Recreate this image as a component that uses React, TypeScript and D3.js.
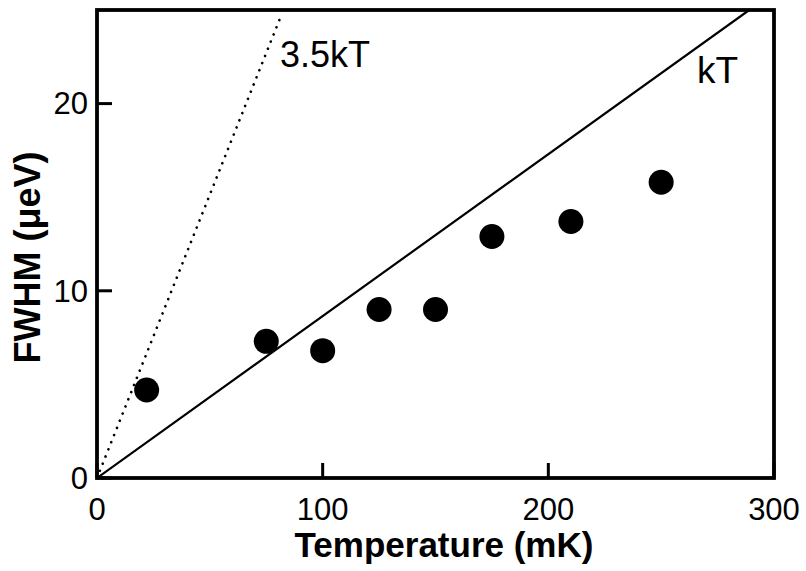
import React, { useEffect, useRef } from "react";
import * as d3 from "d3";

const temperatures = [22, 75, 100, 125, 150, 175, 210, 250];
const fwhm = [4.7, 7.3, 6.8, 9.0, 9.0, 12.9, 13.7, 15.8];
const xTicks = [0, 100, 200, 300];
const yTicks = [0, 10, 20];
const kB = 0.0865; // µeV per mK (slope)
const factors = [1, 3.5];
const lineLabels = ["kT", "3.5kT"];

const W = 806;
const H = 571;
const FONT = "'Liberation Sans', Arial, Helvetica, sans-serif";

export default function App() {
  const ref = useRef<SVGSVGElement>(null);

  useEffect(() => {
    const svg = d3.select(ref.current);
    svg.selectAll("*").remove();

    const x = d3.scaleLinear().domain([0, 300]).range([97, 774]);
    const y = d3.scaleLinear().domain([0, 25]).range([478, 10]);

    const g = svg.append("g");

    svg.append("defs").append("clipPath").attr("id", "plotclip")
      .append("rect").attr("x", x(0)).attr("y", y(25)).attr("width", x(300) - x(0)).attr("height", y(0) - y(25));

    const line = d3.line<[number, number]>().x(d => x(d[0])).y(d => y(d[1]));
    factors.forEach((f, i) => {
      const tMax = Math.min(300, (i === 1 ? 24.7 : 25) / (f * kB));
      const pts: [number, number][] = [[0, 0], [tMax, f * kB * tMax]];
      g.append("path")
        .attr("d", line(pts))
        .attr("clip-path", "url(#plotclip)")
        .attr("fill", "none")
        .attr("stroke", "#000")
        .attr("stroke-width", i === 0 ? 2.2 : 2.6)
        .attr("stroke-linecap", i === 0 ? "butt" : "round")
        .attr("stroke-dasharray", i === 0 ? null : "0.1,7.6");
    });

    g.selectAll("circle.pt")
      .data(temperatures.map((t, i) => [t, fwhm[i]]))
      .enter().append("circle")
      .attr("cx", d => x(d[0]))
      .attr("cy", d => y(d[1]))
      .attr("r", 12.5)
      .attr("fill", "#000");

    g.append("rect")
      .attr("x", x(0)).attr("y", y(25))
      .attr("width", x(300) - x(0)).attr("height", y(0) - y(25))
      .attr("fill", "none").attr("stroke", "#000").attr("stroke-width", 3.8);

    xTicks.forEach(t => {
      g.append("line").attr("x1", x(t)).attr("x2", x(t)).attr("y1", y(0)).attr("y2", y(0) - 15)
        .attr("stroke", "#000").attr("stroke-width", 3);
      g.append("text").attr("x", x(t)).attr("y", 520).attr("text-anchor", "middle")
        .attr("font-family", FONT).attr("font-size", 31).text(String(t));
    });
    yTicks.forEach(t => {
      g.append("line").attr("x1", x(0)).attr("x2", x(0) + 15).attr("y1", y(t)).attr("y2", y(t))
        .attr("stroke", "#000").attr("stroke-width", 3);
      g.append("text").attr("x", 88).attr("y", y(t)).attr("dy", "0.35em").attr("text-anchor", "end")
        .attr("font-family", FONT).attr("font-size", 31).text(String(t));
    });

    g.append("text").attr("x", 697).attr("y", 83).attr("font-family", FONT).attr("font-size", 37).text(lineLabels[0]);
    g.append("text").attr("x", 280).attr("y", 67).attr("font-family", FONT).attr("font-size", 36).text(lineLabels[1]);

    g.append("text").attr("x", (295 + 593) / 2).attr("y", 557).attr("text-anchor", "middle")
      .attr("font-family", FONT).attr("font-weight", "bold").attr("font-size", 35).text("Temperature (mK)");
    g.append("text")
      .attr("transform", `translate(40,${(148 + 367) / 2}) rotate(-90)`)
      .attr("text-anchor", "middle")
      .attr("font-family", FONT).attr("font-weight", "bold").attr("font-size", 36).text("FWHM (μeV)");
  }, []);

  return (
    <svg ref={ref} width={W} height={H}
      style={{ position: "absolute", left: 0, top: 0, background: "#fff" }} />
  );
}
